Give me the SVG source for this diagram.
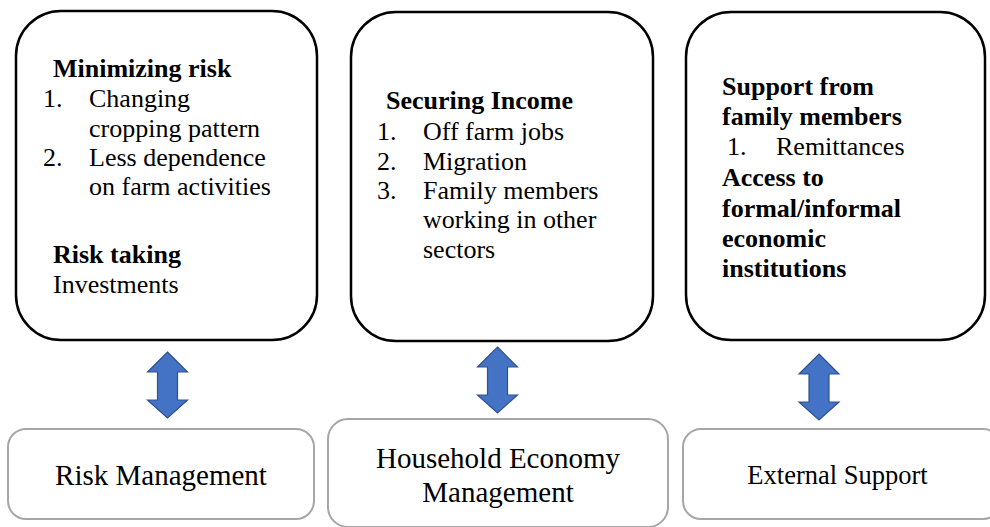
<svg xmlns="http://www.w3.org/2000/svg" width="990" height="527" viewBox="0 0 990 527">
  <style>
    .card { fill: #ffffff; stroke: #000000; stroke-width: 2.5; }
    .tag { fill: #ffffff; stroke: #a6a6a6; stroke-width: 2; }
    .body { font-family: "Liberation Serif", "Times New Roman", serif; font-size: 26px; fill: #000000; }
    .head { font-family: "Liberation Serif", "Times New Roman", serif; font-size: 26px; font-weight: bold; fill: #000000; }
    .lbl { font-family: "Liberation Serif", "Times New Roman", serif; font-size: 29px; fill: #000000; text-anchor: middle; }
    .arrow { fill: #4472c4; stroke: #2f528f; stroke-width: 1.2; stroke-linejoin: miter; }
  </style>
  <defs>
    <!-- double-headed vertical arrow, centred on x=0, spanning y=0..66 -->
    <path id="dbl" class="arrow" d="M0,0 L20,20 L10,20 L10,48 L20,48 L0,66 L-20,48 L-10,48 L-10,20 L-20,20 Z"/>
  </defs>
  <rect width="990" height="527" fill="#ffffff"/>

  <!-- upper strategy cards -->
  <g id="card-risk" font-family="Liberation Serif, Times New Roman, serif">
    <rect class="card" x="16" y="11" width="301" height="329" rx="45" ry="45"/>
    <text class="head" x="53" y="77">Minimizing risk</text>
    <text class="body" x="43" y="107">1.</text>
    <text class="body" x="89" y="107">Changing</text>
    <text class="body" x="89" y="137">cropping pattern</text>
    <text class="body" x="43" y="166">2.</text>
    <text class="body" x="89" y="166">Less dependence</text>
    <text class="body" x="89" y="195">on farm activities</text>
    <text class="head" x="53" y="263">Risk taking</text>
    <text class="body" x="53" y="293">Investments</text>
  </g>

  <g id="card-income" font-family="Liberation Serif, Times New Roman, serif">
    <rect class="card" x="351" y="12" width="302" height="329" rx="45" ry="45"/>
    <text class="head" x="386" y="109">Securing Income</text>
    <text class="body" x="377" y="140">1.</text>
    <text class="body" x="423" y="140">Off farm jobs</text>
    <text class="body" x="377" y="170">2.</text>
    <text class="body" x="423" y="170">Migration</text>
    <text class="body" x="377" y="199">3.</text>
    <text class="body" x="423" y="199">Family members</text>
    <text class="body" x="423" y="228">working in other</text>
    <text class="body" x="423" y="258">sectors</text>
  </g>

  <g id="card-support" font-family="Liberation Serif, Times New Roman, serif">
    <rect class="card" x="686" y="12" width="299" height="328" rx="45" ry="45"/>
    <text class="head" x="722" y="95">Support from</text>
    <text class="head" x="722" y="125">family members</text>
    <text class="body" x="727" y="155">1.</text>
    <text class="body" x="776" y="155">Remittances</text>
    <text class="head" x="722" y="186">Access to</text>
    <text class="head" x="722" y="217">formal/informal</text>
    <text class="head" x="722" y="247">economic</text>
    <text class="head" x="722" y="277">institutions</text>
  </g>

  <!-- connectors between cards and categories -->
  <g id="connectors">
    <use href="#dbl" x="167.5" y="352"/>
    <use href="#dbl" x="497.5" y="347"/>
    <use href="#dbl" x="819" y="354"/>
  </g>

  <!-- lower category labels -->
  <g id="tag-risk">
    <rect class="tag" x="8" y="429" width="306" height="90" rx="18" ry="18"/>
    <text class="lbl" x="161" y="485">Risk Management</text>
  </g>

  <g id="tag-household">
    <rect class="tag" x="328" y="419" width="340" height="108" rx="20" ry="20"/>
    <text class="lbl" x="498" y="468">Household Economy</text>
    <text class="lbl" x="498" y="502">Management</text>
  </g>

  <g id="tag-external">
    <rect class="tag" x="683" y="429" width="318" height="90" rx="18" ry="18"/>
    <text class="lbl" x="837.5" y="484" style="font-size:26.5px">External Support</text>
  </g>
</svg>
